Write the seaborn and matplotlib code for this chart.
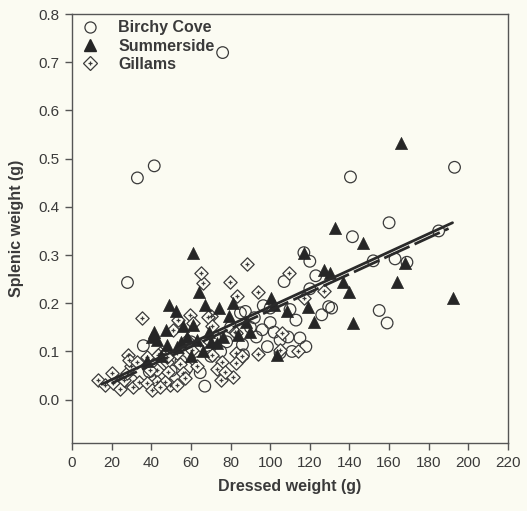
import numpy as np
import pandas as pd
import matplotlib
matplotlib.use("Agg")
import matplotlib.pyplot as plt
import seaborn as sns
from matplotlib.lines import Line2D

# ---------------- data ----------------
bc_x = [76, 33, 41.5, 140.5, 193, 28, 160, 141.5, 152, 163, 169, 185, 155, 159,
        117, 120, 123, 107, 120, 129.5, 126, 110, 96.5, 87.5, 93, 96, 98.6, 109,
        115, 105, 111, 105, 86.5, 85, 86, 85, 67, 64.7, 58, 39, 36,
        100, 102, 90, 78, 75, 70, 62, 55, 50, 45, 30, 25, 60, 72, 80, 92, 113,
        118, 100, 131]
bc_y = [0.72, 0.46, 0.485, 0.462, 0.482, 0.243, 0.367, 0.338, 0.288, 0.292, 0.285,
        0.35, 0.185, 0.159, 0.305, 0.287, 0.257, 0.245, 0.23, 0.193, 0.176, 0.187,
        0.195, 0.183, 0.13, 0.145, 0.11, 0.13, 0.128, 0.124, 0.10, 0.097, 0.093,
        0.18, 0.114, 0.087, 0.028, 0.056, 0.066, 0.058, 0.112,
        0.16, 0.14, 0.15, 0.12, 0.10, 0.09, 0.10, 0.08, 0.06, 0.05, 0.04, 0.035,
        0.12, 0.13, 0.15, 0.17, 0.165, 0.11, 0.19, 0.19]

ss_x = [166, 147, 168, 164, 192, 140, 142, 136.5, 132.5, 117, 127, 130, 122, 119,
        100.6, 102, 108.7, 103.5, 88, 61, 64, 49, 67, 74, 81, 79, 41.5, 47.5,
        52.5, 56, 61, 48, 63, 69, 73, 53, 43, 40.5, 90, 58, 66, 45, 55, 60, 70,
        76, 84, 38]
ss_y = [0.533, 0.324, 0.284, 0.245, 0.21, 0.224, 0.158, 0.245, 0.357, 0.305, 0.268,
        0.262, 0.161, 0.193, 0.21, 0.197, 0.183, 0.093, 0.162, 0.305, 0.224, 0.197,
        0.197, 0.19, 0.2, 0.173, 0.14, 0.145, 0.183, 0.152, 0.155, 0.114, 0.124,
        0.141, 0.118, 0.11, 0.124, 0.131, 0.14, 0.13, 0.10, 0.09, 0.12, 0.09, 0.12,
        0.13, 0.135, 0.08]

gl_x = [88.5, 109.5, 79.5, 66, 65, 83.5, 93.6, 117, 127, 70, 82, 106, 105, 114,
        93.6, 35.4, 59.7, 53.6, 51, 61, 68.8, 70.8, 82.5, 58, 60.5, 53, 64.7, 70.8,
        75.8, 82.5, 83, 44.5, 48, 43, 48.6, 54.6, 56, 73, 81, 43, 49.6, 13, 16.7,
        20.7, 20, 24, 26, 27.6, 30, 28.5, 29, 33, 31, 34, 38, 39.5, 37.7, 43.5,
        40.5, 48, 47, 44.5, 75, 53, 57, 63, 86, 77]
gl_y = [0.282, 0.262, 0.245, 0.242, 0.263, 0.216, 0.224, 0.21, 0.226, 0.173, 0.14,
        0.138, 0.104, 0.10, 0.095, 0.17, 0.176, 0.166, 0.145, 0.16, 0.172, 0.152,
        0.139, 0.124, 0.104, 0.097, 0.114, 0.093, 0.079, 0.097, 0.077, 0.097,
        0.079, 0.062, 0.058, 0.073, 0.056, 0.064, 0.048, 0.037, 0.031, 0.041,
        0.031, 0.035, 0.056, 0.023, 0.041, 0.056, 0.069, 0.093, 0.083, 0.079,
        0.027, 0.037, 0.035, 0.062, 0.089, 0.093, 0.021, 0.089, 0.037, 0.027,
        0.04, 0.03, 0.045, 0.07, 0.09, 0.058]

# fitted regression lines (end points)
fit1_x = [15, 192]
fit1_y = [0.032, 0.367]
fit2_x = [20, 190]
fit2_y = [0.034, 0.355]

series_names = ["Birchy Cove", "Summerside", "Gillams"]
x_ticks = list(range(0, 221, 20))
y_ticks = [0.0, 0.1, 0.2, 0.3, 0.4, 0.5, 0.6, 0.7, 0.8]

# ---------------- styling ----------------
sns.set_theme(style="ticks")
plt.rcParams["font.family"] = ["Liberation Sans", "DejaVu Sans"]

ink = "#3a3a3a"
bg = "#fbfbf2"

fig = plt.figure(figsize=(5.27, 5.11), dpi=100, facecolor=bg)
ax = fig.add_axes([0.1366, 0.133, 0.8274, 0.8396])
ax.set_facecolor(bg)

bc = pd.DataFrame({"x": bc_x, "y": bc_y})
ss = pd.DataFrame({"x": ss_x, "y": ss_y})
gl = pd.DataFrame({"x": gl_x, "y": gl_y})

sns.scatterplot(data=bc, x="x", y="y", ax=ax, marker="o", s=70,
                facecolor="none", edgecolor=ink, linewidth=0.9, legend=False, zorder=3)
sns.scatterplot(data=gl, x="x", y="y", ax=ax, marker="D", s=46,
                facecolor=bg, edgecolor=ink, linewidth=0.9, legend=False, zorder=4)
sns.scatterplot(data=gl, x="x", y="y", ax=ax, marker="+", s=9,
                color=ink, linewidth=0.9, legend=False, zorder=5)
sns.scatterplot(data=ss, x="x", y="y", ax=ax, marker="^", s=76,
                color="#262626", edgecolor="#262626", linewidth=0.5, legend=False, zorder=6)

sns.lineplot(x=fit1_x, y=fit1_y, ax=ax, color="#2a2a2a", linewidth=2.0, zorder=7)
sns.lineplot(x=fit2_x, y=fit2_y, ax=ax, color="#2a2a2a", linewidth=2.0, zorder=7)
ax.lines[-1].set_linestyle((0, (10, 2)))

ax.set_xlim(0, 220)
ax.set_ylim(-0.09, 0.8)
ax.set_xticks(x_ticks)
ax.set_yticks(y_ticks)
ax.set_yticklabels([f"{v:.1f}" for v in y_ticks])
ax.tick_params(axis="both", direction="out", length=5, width=1, color="#555555",
               labelcolor=ink, labelsize=11, pad=4)
for sp in ax.spines.values():
    sp.set_visible(True)
    sp.set_color("#555555")
    sp.set_linewidth(1)

ax.set_xlabel("Dressed weight (g)", fontsize=11.5, fontweight="bold", color=ink, labelpad=7)
ax.set_ylabel("Splenic weight (g)", fontsize=11.5, fontweight="bold", color=ink, labelpad=10)

h_bc = Line2D([], [], marker="o", linestyle="none", markersize=8,
              markerfacecolor="none", markeredgecolor=ink, markeredgewidth=0.9)
h_ss = Line2D([], [], marker="^", linestyle="none", markersize=8.5,
              color="#262626")
h_gl1 = Line2D([], [], marker="D", linestyle="none", markersize=6.8,
               markerfacecolor="none", markeredgecolor=ink, markeredgewidth=0.9)
h_gl2 = Line2D([], [], marker="+", linestyle="none", markersize=3,
               color=ink, markeredgewidth=0.9)
leg = ax.legend([h_bc, h_ss, (h_gl1, h_gl2)], series_names, loc="upper left",
                frameon=False, handletextpad=1.1, labelspacing=0.2,
                borderaxespad=0.0, handlelength=1.4,
                prop={"weight": "bold", "size": 11.5})
for t in leg.get_texts():
    t.set_color(ink)

fig.savefig("out.png", dpi=100, facecolor=bg)
